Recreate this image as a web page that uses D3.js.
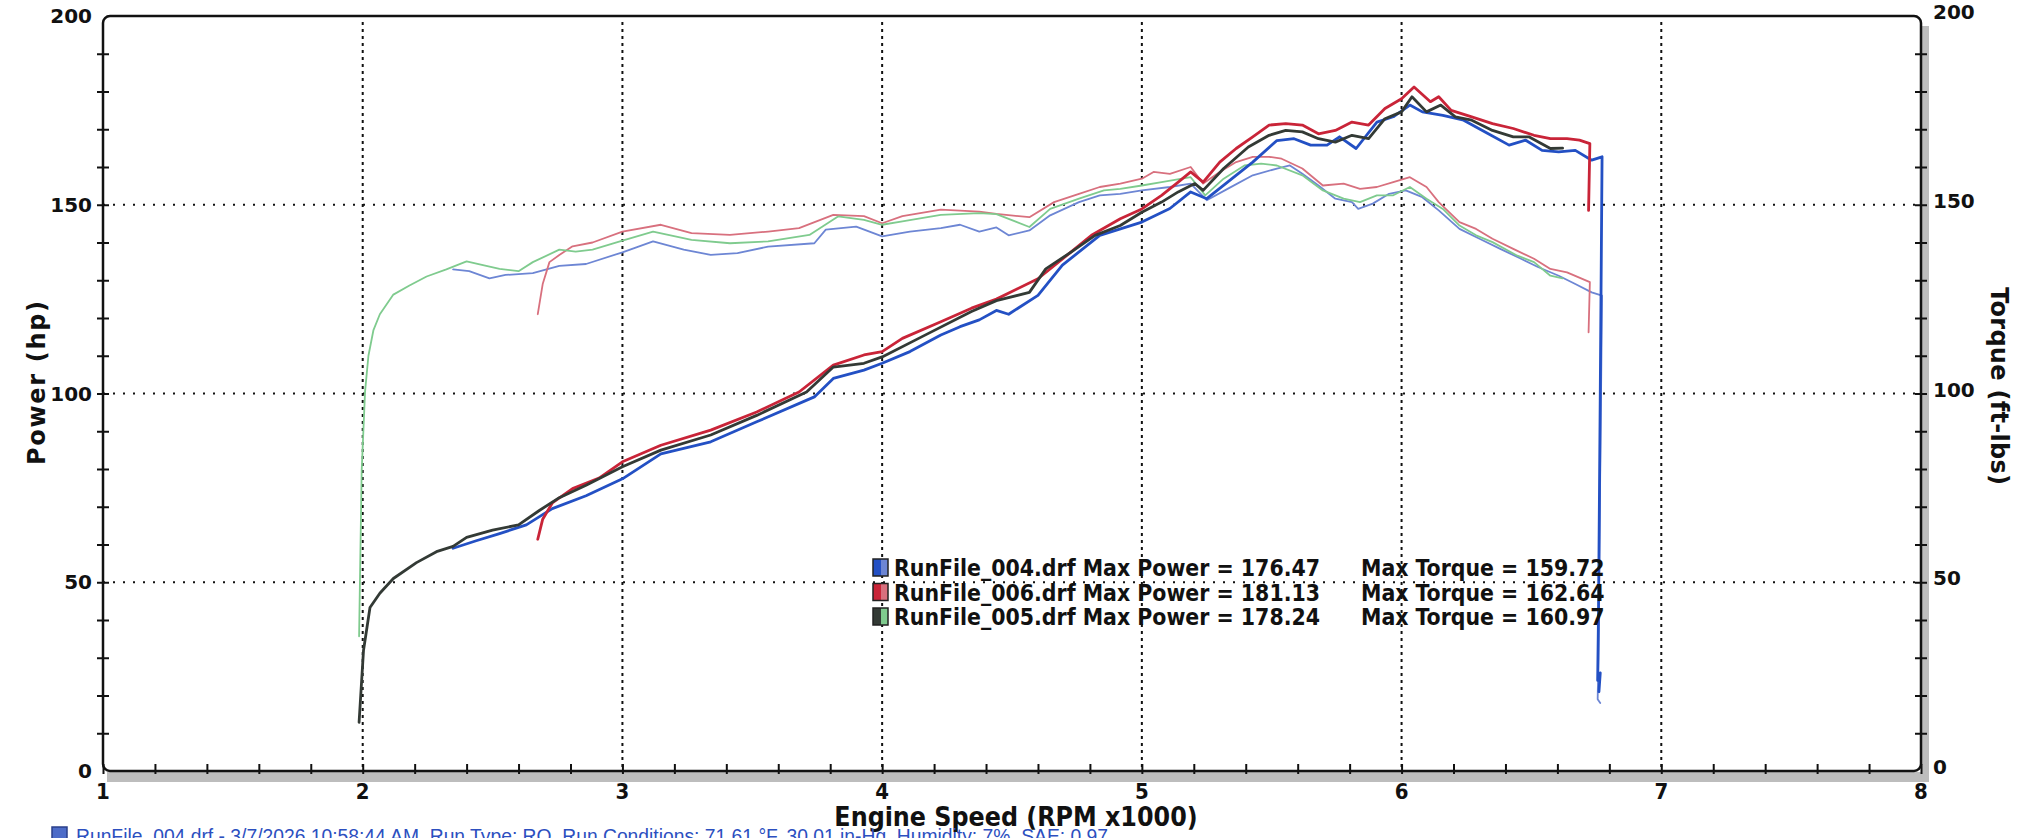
<!DOCTYPE html>
<html>
<head>
<meta charset="utf-8">
<script src="https://cdn.jsdelivr.net/npm/d3@7/dist/d3.min.js"></script>
<style>
html, body { margin: 0; padding: 0; background: #fff; overflow: hidden; }
svg { display: block; }
</style>
</head>
<body>
<svg id="chart" width="2026" height="838"></svg>
<script>
// ---- data (rpm x1000, hp / ft-lbs) ----
const rpmPow005 = [1.986, 2.003, 2.028, 2.066, 2.118, 2.207, 2.284, 2.348, 2.4, 2.5, 2.6, 2.68, 2.757, 2.86, 3.0, 3.148, 3.34, 3.517, 3.709, 3.812, 3.93, 4.0, 4.152, 4.344, 4.44, 4.567, 4.63, 4.726, 4.82, 4.917, 5.0, 5.076, 5.14, 5.204, 5.236, 5.315, 5.41, 5.49, 5.554, 5.618, 5.68, 5.745, 5.809, 5.873, 5.936, 6.0, 6.04, 6.096, 6.151, 6.207, 6.27, 6.35, 6.43, 6.49, 6.573, 6.62];
const pow005 = [12.9, 31.9, 43.3, 47.1, 51, 55.2, 58.1, 59.5, 61.9, 63.8, 65.2, 69, 72.4, 75.7, 80.6, 85, 89, 94.2, 100.4, 107, 108, 109.7, 115, 121.7, 124.6, 126.8, 133, 137.4, 141.9, 144.5, 148, 150.7, 153.4, 155.6, 153.8, 159.6, 165.3, 168.4, 169.7, 169.3, 167.5, 166.6, 168.4, 167.5, 172.8, 174.6, 178.6, 174.6, 176.4, 173.3, 172.4, 169.7, 168, 168, 164.9, 165];

const rpmPow006 = [2.674, 2.693, 2.73, 2.808, 2.91, 3.0, 3.148, 3.34, 3.517, 3.68, 3.812, 3.93, 4.0, 4.078, 4.226, 4.344, 4.44, 4.6, 4.71, 4.806, 4.917, 5.0, 5.076, 5.14, 5.188, 5.236, 5.3, 5.363, 5.427, 5.49, 5.554, 5.618, 5.68, 5.745, 5.809, 5.873, 5.936, 6.0, 6.048, 6.111, 6.143, 6.191, 6.27, 6.35, 6.43, 6.51, 6.573, 6.637, 6.685, 6.725, 6.72];
const pow006 = [61.4, 66.7, 71, 74.8, 77.6, 81.9, 86.3, 90.3, 95.1, 100.4, 107.5, 110.2, 111.1, 114.6, 119, 122.6, 125, 130.4, 136.5, 141.9, 146.3, 148.9, 152.5, 156, 158.7, 156, 161.3, 164.9, 168, 171.1, 171.5, 171.1, 168.8, 169.7, 171.9, 171.1, 175.5, 178.1, 181.2, 177.3, 178.6, 175, 173.3, 171.5, 170.2, 168.4, 167.5, 167.5, 167.1, 166.2, 148.5];

const rpmPow004 = [2.348, 2.437, 2.527, 2.63, 2.73, 2.86, 3.0, 3.148, 3.34, 3.517, 3.739, 3.812, 3.93, 4.0, 4.107, 4.226, 4.3, 4.374, 4.44, 4.487, 4.6, 4.694, 4.838, 5.0, 5.108, 5.188, 5.25, 5.33, 5.427, 5.52, 5.586, 5.65, 5.713, 5.761, 5.825, 5.905, 5.968, 6.032, 6.08, 6.159, 6.239, 6.334, 6.414, 6.478, 6.541, 6.605, 6.669, 6.732, 6.772, 6.765, 6.758, 6.755, 6.765, 6.76];
const pow004 = [59, 61, 62.9, 65.2, 69.5, 72.9, 77.4, 84, 87.2, 92.5, 99.1, 104, 106.2, 108, 111.1, 115.5, 117.7, 119.5, 122, 121, 126, 134, 141.9, 145.4, 149, 153.4, 151.6, 156, 161.3, 167, 167.5, 165.8, 165.8, 168, 164.9, 171.9, 173.3, 176.4, 174.6, 173.7, 172.4, 168.8, 165.8, 167.1, 164.4, 164, 164.4, 161.8, 162.7, 100, 40, 24, 26, 21];

const rpmTq005 = [1.986, 1.996, 2.009, 2.022, 2.041, 2.066, 2.118, 2.18, 2.246, 2.322, 2.4, 2.463, 2.527, 2.6, 2.655, 2.757, 2.82, 2.885, 3.0, 3.118, 3.266, 3.414, 3.561, 3.72, 3.83, 3.93, 4.0, 4.078, 4.226, 4.374, 4.44, 4.567, 4.647, 4.758, 4.854, 4.917, 5.0, 5.076, 5.188, 5.244, 5.315, 5.395, 5.459, 5.52, 5.618, 5.697, 5.777, 5.84, 5.905, 5.968, 6.032, 6.096, 6.159, 6.223, 6.287, 6.35, 6.446, 6.51, 6.573, 6.62];
const tq005 = [35.7, 79.5, 100.5, 110, 116.7, 121, 126.2, 128.6, 131, 132.9, 135, 134, 133, 132.4, 134.8, 138.1, 137.6, 138.1, 140.5, 142.9, 140.7, 139.8, 140.3, 142, 146.9, 146, 144.7, 145.6, 147.3, 147.8, 147.5, 144.1, 148.9, 151.6, 153.8, 154.2, 155.1, 156, 157.3, 152.5, 156.9, 160.4, 160.9, 160.4, 157.8, 153.8, 151.6, 150.7, 152.5, 152.5, 154.7, 151.6, 148.9, 144.5, 141.9, 140.1, 136.5, 134.8, 131.2, 130.5];

const rpmTq006 = [2.674, 2.693, 2.719, 2.757, 2.808, 2.885, 3.0, 3.148, 3.266, 3.414, 3.561, 3.68, 3.812, 3.93, 4.0, 4.078, 4.226, 4.374, 4.44, 4.567, 4.662, 4.758, 4.838, 4.917, 5.0, 5.045, 5.108, 5.188, 5.236, 5.3, 5.363, 5.427, 5.49, 5.538, 5.618, 5.697, 5.777, 5.84, 5.905, 5.968, 6.032, 6.096, 6.143, 6.223, 6.287, 6.35, 6.43, 6.51, 6.573, 6.637, 6.725, 6.72];
const tq006 = [121, 129, 134.8, 136.7, 139, 140, 142.9, 144.7, 142.5, 142, 142.9, 143.8, 147.3, 147, 145.1, 147, 148.7, 148.2, 147.6, 146.7, 150.7, 152.9, 154.7, 155.6, 156.9, 158.7, 158.2, 160, 155.6, 158.7, 161.3, 162.7, 162.7, 162.2, 159.6, 155.1, 155.6, 154.2, 154.7, 156, 157.3, 154.7, 150.7, 145.4, 143.6, 141, 138.3, 135.7, 133, 132.1, 129.5, 116.2];

const rpmTq004 = [2.348, 2.41, 2.488, 2.55, 2.655, 2.757, 2.86, 3.0, 3.118, 3.236, 3.34, 3.443, 3.561, 3.739, 3.783, 3.9, 4.0, 4.107, 4.226, 4.3, 4.374, 4.44, 4.487, 4.567, 4.647, 4.758, 4.838, 4.917, 5.0, 5.108, 5.188, 5.25, 5.33, 5.427, 5.52, 5.57, 5.618, 5.68, 5.745, 5.809, 5.833, 5.889, 5.952, 6.016, 6.08, 6.143, 6.223, 6.3, 6.38, 6.46, 6.525, 6.605, 6.669, 6.732, 6.772, 6.765, 6.758, 6.755, 6.765];
const tq004 = [132.9, 132.4, 130.5, 131.4, 131.9, 133.8, 134.3, 137.4, 140.3, 138.1, 136.7, 137.2, 138.9, 139.8, 143.4, 144.2, 141.6, 142.9, 143.8, 144.7, 142.9, 144, 141.9, 143.2, 147.2, 150.7, 152.5, 152.9, 153.8, 154.7, 155.6, 151.2, 154.2, 157.8, 159.6, 160.4, 158.2, 155.1, 151.6, 150.7, 148.9, 150.3, 152.9, 153.8, 152, 148.5, 143.6, 141, 138.3, 135.7, 133.5, 131.2, 129, 126.8, 125.9, 80, 30, 19, 18];

const runNames = ["RunFile_004.drf", "RunFile_006.drf", "RunFile_005.drf"];
const maxPower = ["176.47", "181.13", "178.24"];
const maxTorque = ["159.72", "162.64", "160.97"];
const powerColors = ["#2350c4", "#c92438", "#333a35"];
const torqueColors = ["#6d86d4", "#d8707e", "#7fcb8e"];
const xTicks = [1, 2, 3, 4, 5, 6, 7, 8];
const yTicks = [0, 50, 100, 150, 200];
const footnote = "RunFile_004.drf - 3/7/2026 10:58:44 AM, Run Type: RO, Run Conditions: 71.61 °F, 30.01 in-Hg, Humidity: 7%, SAE: 0.97";

// ---- layout ----
const pLeft = 103, pRight = 1921, pTop = 16, pBottom = 771;
const numFont = "'DejaVu Sans', Verdana, sans-serif";
const condFont = "'DejaVu Sans Condensed', 'DejaVu Sans', sans-serif";

const svg = d3.select("#chart");
const x = d3.scaleLinear().domain([1, 8]).range([pLeft, pRight]);
const y = d3.scaleLinear().domain([0, 200]).range([pBottom, pTop]);

// scanner shadow along bottom and right edge
svg.append("rect").attr("x", pLeft + 4).attr("y", pBottom + 1).attr("width", pRight - pLeft + 4).attr("height", 10).attr("fill", "#bdbdbd");
svg.append("rect").attr("x", pRight + 1).attr("y", pTop + 10).attr("width", 7).attr("height", pBottom - pTop).attr("fill", "#bdbdbd");

// grid
const grid = svg.append("g");
grid.selectAll(".vg").data(d3.range(2, 8)).enter().append("line")
    .attr("x1", d => x(d)).attr("x2", d => x(d))
    .attr("y1", pTop + 6).attr("y2", pBottom)
    .attr("stroke", "#111").attr("stroke-width", 2).attr("stroke-dasharray", "3,4");
grid.selectAll(".hg").data([50, 100, 150]).enter().append("line")
    .attr("x1", pLeft).attr("x2", pRight)
    .attr("y1", d => y(d)).attr("y2", d => y(d))
    .attr("stroke", "#111").attr("stroke-width", 2.2).attr("stroke-dasharray", "2,8");

// frame
svg.append("rect").attr("x", pLeft).attr("y", pTop).attr("width", pRight - pLeft).attr("height", pBottom - pTop)
    .attr("rx", 7).attr("fill", "none").attr("stroke", "#111").attr("stroke-width", 2.5);

// axes
const gx = svg.append("g").attr("transform", `translate(0,${pBottom})`)
    .call(d3.axisBottom(x).tickValues(d3.range(1, 8.01, 0.2)).tickSize(0).tickFormat(""));
gx.select(".domain").remove();
gx.selectAll(".tick line").attr("y1", -7).attr("y2", 3).attr("stroke", "#111").attr("stroke-width", 2);

const gl = svg.append("g").attr("transform", `translate(${pLeft},0)`)
    .call(d3.axisLeft(y).tickValues(d3.range(10, 200, 10)).tickSize(0).tickFormat(""));
gl.select(".domain").remove();
gl.selectAll(".tick line").attr("x1", -6).attr("x2", 6).attr("stroke", "#111").attr("stroke-width", 2);

const gr = svg.append("g").attr("transform", `translate(${pRight},0)`)
    .call(d3.axisRight(y).tickValues(d3.range(10, 200, 10)).tickSize(0).tickFormat(""));
gr.select(".domain").remove();
gr.selectAll(".tick line").attr("x1", -6).attr("x2", 6).attr("stroke", "#111").attr("stroke-width", 2);

// tick labels
svg.append("g").selectAll("text").data(yTicks).enter().append("text")
    .attr("x", pLeft - 11).attr("y", d => y(d) + 7)
    .attr("text-anchor", "end").attr("font-family", numFont).attr("font-weight", "bold").attr("font-size", 20)
    .attr("fill", "#111").text(d => d);
svg.append("g").selectAll("text").data(yTicks).enter().append("text")
    .attr("x", pRight + 12).attr("y", d => y(d) + 3)
    .attr("text-anchor", "start").attr("font-family", numFont).attr("font-weight", "bold").attr("font-size", 20)
    .attr("fill", "#111").text(d => d);
svg.append("g").selectAll("text").data(xTicks).enter().append("text")
    .attr("x", d => x(d)).attr("y", pBottom + 28)
    .attr("text-anchor", "middle").attr("font-family", condFont).attr("font-weight", "bold").attr("font-size", 22)
    .attr("fill", "#111").text(d => d);

// axis titles
svg.append("text").attr("transform", "translate(45,383) rotate(-90)")
    .attr("text-anchor", "middle").attr("font-family", numFont).attr("font-weight", "bold").attr("font-size", 24)
    .attr("textLength", 164).attr("lengthAdjust", "spacing")
    .attr("fill", "#111").text("Power (hp)");
svg.append("text").attr("transform", "translate(1991,386) rotate(90)")
    .attr("text-anchor", "middle").attr("font-family", numFont).attr("font-weight", "bold").attr("font-size", 24)
    .attr("textLength", 198).attr("lengthAdjust", "spacing")
    .attr("fill", "#111").text("Torque (ft-lbs)");
svg.append("text").attr("x", 1016).attr("y", 826)
    .attr("text-anchor", "middle").attr("font-family", condFont).attr("font-weight", "bold").attr("font-size", 26.5)
    .attr("fill", "#111").text("Engine Speed (RPM x1000)");

// curves
const line = d3.line().x(d => x(d[0])).y(d => y(d[1]));
const series = [
    { r: rpmTq004, v: tq004, c: torqueColors[0], w: 1.8 },
    { r: rpmTq006, v: tq006, c: torqueColors[1], w: 1.8 },
    { r: rpmTq005, v: tq005, c: torqueColors[2], w: 1.8 },
    { r: rpmPow004, v: pow004, c: powerColors[0], w: 2.8 },
    { r: rpmPow006, v: pow006, c: powerColors[1], w: 2.8 },
    { r: rpmPow005, v: pow005, c: powerColors[2], w: 2.8 }
];
svg.append("g").selectAll("path").data(series).enter().append("path")
    .attr("d", s => line(s.r.map((r, i) => [r, s.v[i]])))
    .attr("fill", "none").attr("stroke", s => s.c).attr("stroke-width", s => s.w)
    .attr("stroke-linejoin", "round").attr("stroke-linecap", "round");

// legend
const legend = svg.append("g");
const rowY = [568, 592.5, 617];
runNames.forEach((name, i) => {
    const g = legend.append("g").attr("transform", `translate(873,${rowY[i]})`);
    g.append("rect").attr("x", 0).attr("y", -9).attr("width", 8).attr("height", 17).attr("fill", powerColors[i]);
    g.append("rect").attr("x", 8).attr("y", -9).attr("width", 7).attr("height", 17).attr("fill", torqueColors[i]);
    g.append("rect").attr("x", 0).attr("y", -9).attr("width", 15).attr("height", 17).attr("fill", "none").attr("stroke", "#222").attr("stroke-width", 1.5);
    g.append("text").attr("x", 21).attr("y", 8).attr("font-family", condFont).attr("font-weight", "bold").attr("font-size", 22.8)
        .attr("fill", "#111").text(`${name} Max Power = ${maxPower[i]}`);
    g.append("text").attr("x", 488).attr("y", 8).attr("font-family", condFont).attr("font-weight", "bold").attr("font-size", 22.8)
        .attr("fill", "#111").text(`Max Torque = ${maxTorque[i]}`);
});

// footnote (cut by the page edge, as on the scan)
svg.append("rect").attr("x", 52).attr("y", 827).attr("width", 15).attr("height", 16)
    .attr("fill", "#4d6cc8").attr("stroke", "#2a3f8a").attr("stroke-width", 1.5);
svg.append("text").attr("x", 76).attr("y", 843).attr("font-family", "'Liberation Sans', Arial, sans-serif")
    .attr("font-size", 19.3).attr("fill", "#2c4fbf").text(footnote);
</script>
</body>
</html>
